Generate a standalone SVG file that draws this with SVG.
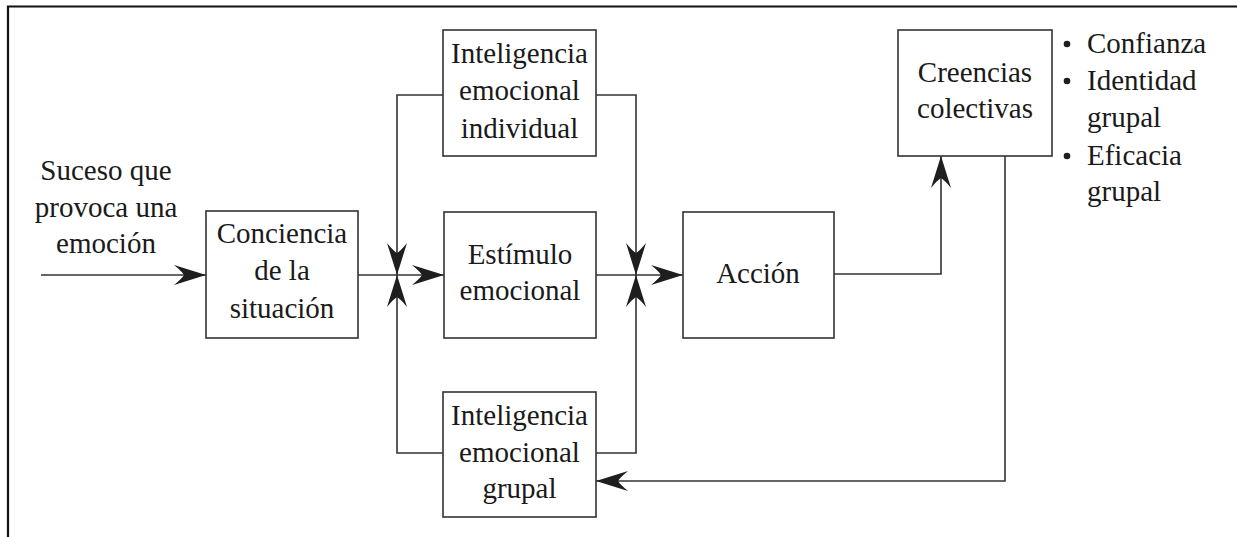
<svg xmlns="http://www.w3.org/2000/svg" width="1237" height="537" viewBox="0 0 1237 537" font-family="Liberation Serif, Times New Roman, serif">
  <style>
    .box { fill: #ffffff; stroke: #333333; stroke-width: 1.6; }
    .wire { fill: none; stroke: #333333; stroke-width: 1.6; }
    text { font-family: Liberation Serif, Times New Roman, serif; font-size: 29px; fill: #1a1a1a; }
    .lbl { text-anchor: middle; }
  </style>
  <defs>
    <marker id="barb" markerUnits="userSpaceOnUse" markerWidth="36" markerHeight="26" viewBox="-34 -13 36 26" refX="0" refY="0" orient="auto">
      <path d="M0,0 L-32,-10 Q-24,-3.5 -22,0 Q-24,3.5 -32,10 Z" fill="#1e1e1e"/>
    </marker>
  </defs>

  <rect width="1237" height="537" fill="#ffffff"/>

  <!-- outer frame (open at right and bottom) -->
  <path d="M8,537 V6.5 H1237" fill="none" stroke="#111111" stroke-width="2.2"/>

  <!-- connectors -->
  <g id="connectors">
    <path class="wire" d="M41,275 H206" marker-end="url(#barb)"/>
    <path class="wire" d="M358,275 H444" marker-end="url(#barb)"/>
    <path class="wire" d="M443,95 H397 V275" marker-end="url(#barb)"/>
    <path class="wire" d="M443,453 H397 V275" marker-end="url(#barb)"/>
    <path class="wire" d="M596,275 H683" marker-end="url(#barb)"/>
    <path class="wire" d="M596,95 H636 V275" marker-end="url(#barb)"/>
    <path class="wire" d="M596,453 H636 V275" marker-end="url(#barb)"/>
    <path class="wire" d="M834,274 H941 V156" marker-end="url(#barb)"/>
    <path class="wire" d="M1005,156 V481 H596" marker-end="url(#barb)"/>
  </g>

  <!-- input label -->
  <g id="suceso">
    <text class="lbl" x="106" y="180">Suceso que</text>
    <text class="lbl" x="106" y="217">provoca una</text>
    <text class="lbl" x="106" y="253">emoción</text>
  </g>

  <g id="conciencia">
    <rect class="box" x="206" y="211" width="152" height="127"/>
    <text class="lbl" x="282" y="243">Conciencia</text>
    <text class="lbl" x="282" y="280">de la</text>
    <text class="lbl" x="282" y="318">situación</text>
  </g>

  <g id="ie-individual">
    <rect class="box" x="443" y="30" width="153" height="126"/>
    <text class="lbl" x="519.5" y="63">Inteligencia</text>
    <text class="lbl" x="519.5" y="100">emocional</text>
    <text class="lbl" x="519.5" y="138">individual</text>
  </g>

  <g id="estimulo">
    <rect class="box" x="444" y="212" width="152" height="126"/>
    <text class="lbl" x="520" y="264">Estímulo</text>
    <text class="lbl" x="520" y="300">emocional</text>
  </g>

  <g id="ie-grupal">
    <rect class="box" x="443" y="392" width="153" height="125"/>
    <text class="lbl" x="519.5" y="425">Inteligencia</text>
    <text class="lbl" x="519.5" y="462">emocional</text>
    <text class="lbl" x="519.5" y="498">grupal</text>
  </g>

  <g id="accion">
    <rect class="box" x="683" y="212" width="151" height="126"/>
    <text class="lbl" x="758" y="283">Acción</text>
  </g>

  <g id="creencias">
    <rect class="box" x="898" y="30" width="154" height="126"/>
    <text class="lbl" x="975" y="82">Creencias</text>
    <text class="lbl" x="975" y="118">colectivas</text>
  </g>

  <g id="atributos">
    <circle cx="1067" cy="44" r="3.3" fill="#1e1e1e"/>
    <text x="1087" y="53">Confianza</text>
    <circle cx="1067" cy="81" r="3.3" fill="#1e1e1e"/>
    <text x="1087" y="90">Identidad</text>
    <text x="1087" y="127">grupal</text>
    <circle cx="1067" cy="156" r="3.3" fill="#1e1e1e"/>
    <text x="1087" y="165">Eficacia</text>
    <text x="1087" y="201">grupal</text>
  </g>
</svg>
